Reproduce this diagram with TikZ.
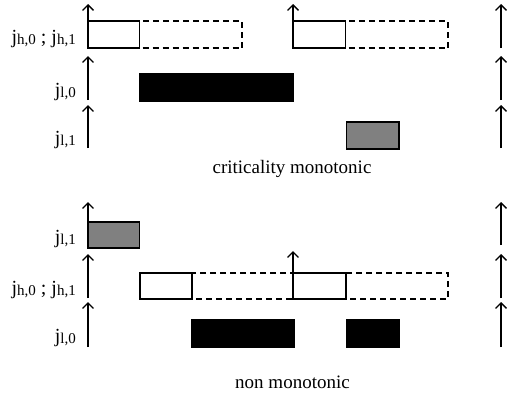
\documentclass[tikz,border=0pt]{standalone}
\usepackage{fontspec}
\setmainfont{Liberation Serif}
\usetikzlibrary{arrows.meta}
% small lowered index after a job name
\newcommand\jobidx[1]{j\raisebox{-1pt}{\fontsize{15}{16}\selectfont #1}}
\tikzset{
  axis/.style={line width=1.3pt,-{Straight Barb[length=5.5pt,width=11pt,line width=1.3pt]}},
  runbox/.style={line width=1.3pt,draw=black,fill=white},
  waitbox/.style={line width=1.3pt,draw=black,dash pattern=on 6pt off 4pt},
  lowbox/.style={line width=1.3pt,draw=black,fill=black},
  grey box/.style={line width=1.3pt,draw=black,fill=gray},
  rowlabel/.style={anchor=base east,inner sep=0pt,font=\fontsize{20}{22}\selectfont},
  caption/.style={anchor=base,inner sep=0pt,font=\fontsize{19}{22}\selectfont}
}
\begin{document}
\begin{tikzpicture}[x=1pt,y=-1pt]
\useasboundingbox (0,0) rectangle (510,399);

% ---------- criticality monotonic ----------
\draw[waitbox] (139.5,21) rectangle (242,48);
\draw[runbox]  (88,21) rectangle (139.5,48);
\draw[waitbox] (345.5,21) rectangle (448,48);
\draw[runbox]  (293,21) rectangle (345.5,48);
\draw[lowbox]  (139.5,74) rectangle (293.5,101);
\draw[grey box] (346.5,122) rectangle (399,149);

\coordinate (a1s) at (88,48);  \coordinate (a1e) at (88,4);
\coordinate (a2s) at (88,100); \coordinate (a2e) at (88,56);
\coordinate (a3s) at (88,148); \coordinate (a3e) at (88,105);
\coordinate (m1s) at (293,48); \coordinate (m1e) at (293,4);
\coordinate (b1s) at (501,48);  \coordinate (b1e) at (501,4);
\coordinate (b2s) at (501,100); \coordinate (b2e) at (501,56);
\coordinate (b3s) at (501,148); \coordinate (b3e) at (501,105);
\foreach \p in {a1,a2,a3,m1,b1,b2,b3} \draw[axis] (\p s) -- (\p e);

\node[rowlabel] (t1) at (76,43)  {\jobidx{h,0} ; \jobidx{h,1}};
\node[rowlabel] (t2) at (76,96)  {\jobidx{l,0}};
\node[rowlabel] (t3) at (76,144) {\jobidx{l,1}};
\node[caption]  (tc) at (292,173) {criticality monotonic};

% ---------- non monotonic ----------
\draw[grey box] (88,222) rectangle (139.5,248);
\draw[waitbox] (192,273) rectangle (293,299);
\draw[runbox]  (140,273) rectangle (192,299);
\draw[waitbox] (346,273) rectangle (448,299);
\draw[runbox]  (293,273) rectangle (346,299);
\draw[lowbox]  (192,320) rectangle (294,347);
\draw[lowbox]  (346.5,320) rectangle (399,347);

\coordinate (c1s) at (88,248); \coordinate (c1e) at (88,202);
\coordinate (c2s) at (88,298); \coordinate (c2e) at (88,254);
\coordinate (c3s) at (88,347); \coordinate (c3e) at (88,302);
\coordinate (n1s) at (293,299); \coordinate (n1e) at (293,251);
\coordinate (d1s) at (501,245); \coordinate (d1e) at (501,202);
\coordinate (d2s) at (501,298); \coordinate (d2e) at (501,254);
\coordinate (d3s) at (501,347); \coordinate (d3e) at (501,302);
\foreach \p in {c1,c2,c3,n1,d1,d2,d3} \draw[axis] (\p s) -- (\p e);

\node[rowlabel] (u1) at (76,243) {\jobidx{l,1}};
\node[rowlabel] (u2) at (76,294) {\jobidx{h,0} ; \jobidx{h,1}};
\node[rowlabel] (u3) at (76,342) {\jobidx{l,0}};
\node[caption]  (uc) at (292.5,388.5) {non monotonic};
\end{tikzpicture}
\end{document}
